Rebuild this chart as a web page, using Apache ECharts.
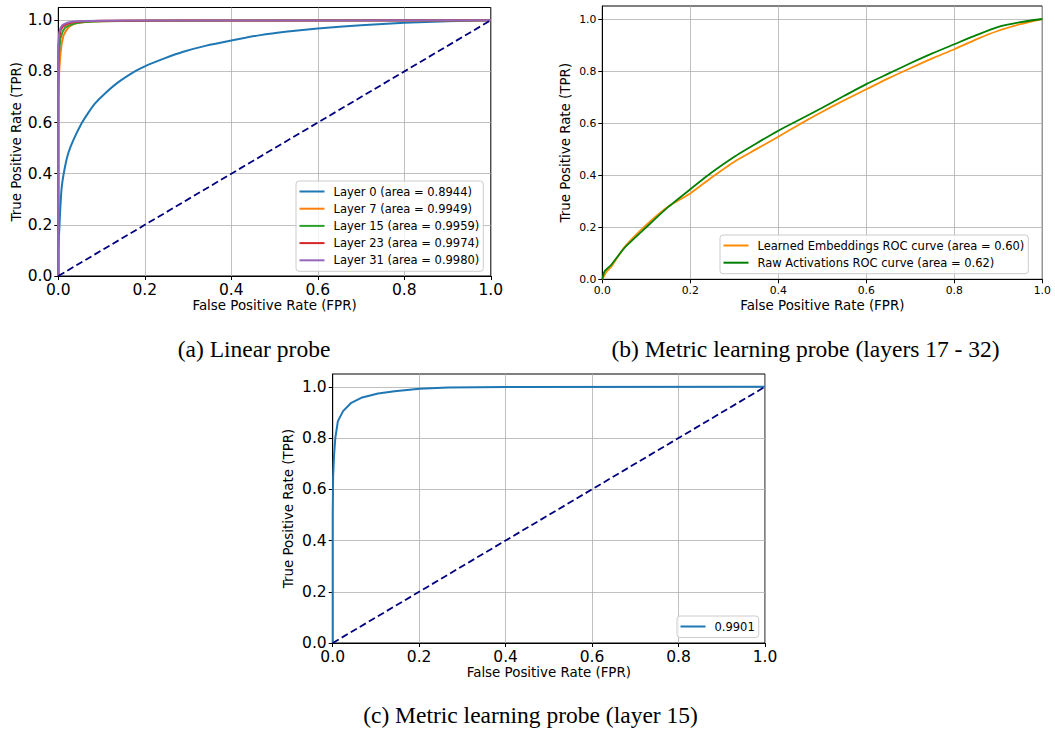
<!DOCTYPE html>
<html><head><meta charset="utf-8">
<script src="https://cdn.jsdelivr.net/npm/echarts@6/dist/echarts.min.js"></script>
<style>html,body{margin:0;padding:0;background:#fff}#c{width:1055px;height:732px}</style>
</head><body><div id="c"></div>
<script>
// ---------- data ----------
const tickValues = [0, 0.2, 0.4, 0.6, 0.8, 1.0];
const diagonal = [[0, 0], [1, 1]];

// (a) Linear probe  [FPR, TPR]
const layer0 = [[0,0],[0,0.1],[0.002,0.17],[0.004,0.245],[0.008,0.349],[0.0155,0.427],[0.023,0.48],[0.035,0.532],[0.054,0.597],[0.07,0.64],[0.085,0.675],[0.108,0.714],[0.139,0.758],[0.177,0.8],[0.2,0.82],[0.247,0.852],[0.289,0.877],[0.34,0.9],[0.40,0.921],[0.467,0.942],[0.53,0.956],[0.6,0.968],[0.7,0.981],[0.8,0.99],[0.9,0.996],[1,1]];
const layer7 = [[0,0],[0,0.7],[0.002,0.8],[0.005,0.87],[0.008,0.91],[0.012,0.94],[0.018,0.96],[0.025,0.975],[0.035,0.985],[0.05,0.991],[0.08,0.995],[0.15,0.998],[0.3,0.999],[1,1]];
const layer15 = [[0,0],[0,0.82],[0.002,0.88],[0.005,0.93],[0.01,0.955],[0.015,0.97],[0.025,0.98],[0.04,0.988],[0.06,0.993],[0.1,0.996],[0.2,0.998],[0.4,0.999],[1,1]];
const layer23 = [[0,0],[0,0.88],[0.002,0.93],[0.005,0.96],[0.01,0.975],[0.02,0.985],[0.035,0.992],[0.06,0.996],[0.1,0.998],[0.3,0.999],[1,1]];
const layer31 = [[0,0],[0,0.9],[0.002,0.95],[0.005,0.97],[0.01,0.982],[0.02,0.99],[0.035,0.995],[0.06,0.997],[0.15,0.999],[1,1]];
const namesA = ['Layer 0 (area = 0.8944)','Layer 7 (area = 0.9949)','Layer 15 (area = 0.9959)','Layer 23 (area = 0.9974)','Layer 31 (area = 0.9980)'];

// (b) Metric learning probe (layers 17 - 32)
const learnedEmb = [[0,0],[0.01,0.03],[0.02,0.047],[0.05,0.123],[0.1,0.209],[0.15,0.28],[0.2,0.33],[0.25,0.393],[0.3,0.452],[0.35,0.5],[0.4,0.548],[0.45,0.597],[0.5,0.644],[0.55,0.688],[0.6,0.73],[0.65,0.772],[0.7,0.811],[0.75,0.849],[0.8,0.884],[0.85,0.922],[0.9,0.955],[0.95,0.98],[1,1]];
const rawAct = [[0,0],[0.005,0.03],[0.02,0.055],[0.05,0.12],[0.1,0.2],[0.15,0.278],[0.2,0.346],[0.25,0.412],[0.3,0.471],[0.35,0.522],[0.4,0.571],[0.45,0.615],[0.5,0.659],[0.55,0.705],[0.6,0.75],[0.65,0.79],[0.7,0.83],[0.75,0.868],[0.8,0.903],[0.85,0.938],[0.9,0.97],[0.95,0.988],[1,1]];
const namesB = ['Learned Embeddings ROC curve (area = 0.60)','Raw Activations ROC curve (area = 0.62)'];

// (c) Metric learning probe (layer 15)
const layer15Metric = [[0,0],[0,0.5],[0.001,0.65],[0.003,0.729],[0.006,0.8],[0.012,0.866],[0.024,0.905],[0.043,0.9375],[0.066,0.957],[0.105,0.974],[0.143,0.983],[0.201,0.992],[0.267,0.997],[0.4,0.999],[1,1]];
const namesC = ['0.9901'];

const captions = ['(a) Linear probe','(b) Metric learning probe (layers 17 - 32)','(c) Metric learning probe (layer 15)'];

// ---------- chart ----------
const FONT = 'DejaVu Sans';
const grids = [
  {left:58.3, top:7.5, width:432.5, height:268.5},
  {left:602.3, top:6, width:440, height:273.3},
  {left:332.7, top:374, width:432.3, height:269}
];
const tickFont = [15.5, 10.8, 15.5];
const xGap = [23, 20, 23];
const yGap = [35, 30, 38];

function fmt(v){ return tickValues.some(t => Math.abs(t - v) < 1e-6) ? v.toFixed(1) : ''; }
function axis(kind, i){
  const isX = kind === 'x';
  return {
    type:'value', gridIndex:i, min:0, max: isX ? 1 : 1.05, interval:0.2,
    name: isX ? 'False Positive Rate (FPR)' : 'True Positive Rate (TPR)',
    nameLocation:'middle', nameGap: isX ? xGap[i] : yGap[i],
    nameTextStyle:{fontSize:13.4, color:'#000', fontFamily:FONT},
    axisLine:{show:true, onZero:false, lineStyle:{color:'#000', width:1}},
    axisTick:{show:true, length:4, lineStyle:{color:'#000', width:1}, customValues: tickValues},
    axisLabel:{fontSize:tickFont[i], color:'#000', fontFamily:FONT, margin:6, formatter:fmt, customValues: tickValues,
      showMaxLabel: true, showMinLabel: true},
    splitLine:{show:true, lineStyle:{color:'#b0b0b0', width:0.8}}
  };
}
function line(name, data, color, gi, width, dashed, smooth){
  return {
    type:'line', name, data, xAxisIndex:gi, yAxisIndex:gi, symbol:'none', showSymbol:false,
    animation:false, silent:true, smooth: smooth || false,
    lineStyle:{color, width, type: dashed ? [7,3.5] : 'solid'}, itemStyle:{color}
  };
}
function legend(data, left, top){
  return {
    data, orient:'vertical', left, top, icon:'rect', itemWidth:25, itemHeight:2, itemGap:5.2,
    padding:[4.5,4,5,3.5], borderColor:'#cccccc', borderWidth:1, borderRadius:3,
    backgroundColor:'rgba(255,255,255,0.8)', selectedMode:false,
    textStyle:{fontSize:11.5, color:'#000', fontFamily:FONT, padding:[0,0,0,4]}
  };
}

const option = {
  animation:false,
  backgroundColor:'#fff',
  textStyle:{fontFamily:FONT},
  grid: grids.map(g => Object.assign({show:true, borderColor:'#000', borderWidth:1, backgroundColor:'transparent', containLabel:false}, g)),
  xAxis:[axis('x',0), axis('x',1), axis('x',2)],
  yAxis:[axis('y',0), axis('y',1), axis('y',2)],
  legend:[legend(namesA, 296, 181), legend(namesB, 720, 235), legend(namesC, 677, 616)],
  series:[
    line(namesA[0], layer0, '#1f77b4', 0, 2, false, 0.2),
    line(namesA[1], layer7, '#ff7f0e', 0, 2),
    line(namesA[2], layer15, '#2ca02c', 0, 2),
    line(namesA[3], layer23, '#d62728', 0, 2),
    line(namesA[4], layer31, '#9467bd', 0, 2),
    line('diagA', diagonal, '#000080', 0, 1.8, true),
    line(namesB[0], learnedEmb, '#ff8c00', 1, 1.8, false, 0.2),
    line(namesB[1], rawAct, '#008000', 1, 1.8, false, 0.2),
    line(namesC[0], layer15Metric, '#1f77b4', 2, 2),
    line('diagC', diagonal, '#000080', 2, 1.8, true)
  ],
  graphic:[
    {type:'text', x:254, y:349, style:{text:captions[0], fontSize:23.5, fontFamily:'Liberation Serif', fill:'#000', align:'center', verticalAlign:'middle'}},
    {type:'text', x:805.5, y:349, style:{text:captions[1], fontSize:23.5, fontFamily:'Liberation Serif', fill:'#000', align:'center', verticalAlign:'middle'}},
    {type:'text', x:530.5, y:715, style:{text:captions[2], fontSize:23.5, fontFamily:'Liberation Serif', fill:'#000', align:'center', verticalAlign:'middle'}}
  ]
};
const chart = echarts.init(document.getElementById('c'), null, {renderer:'svg'});
chart.setOption(option);
</script></body></html>
